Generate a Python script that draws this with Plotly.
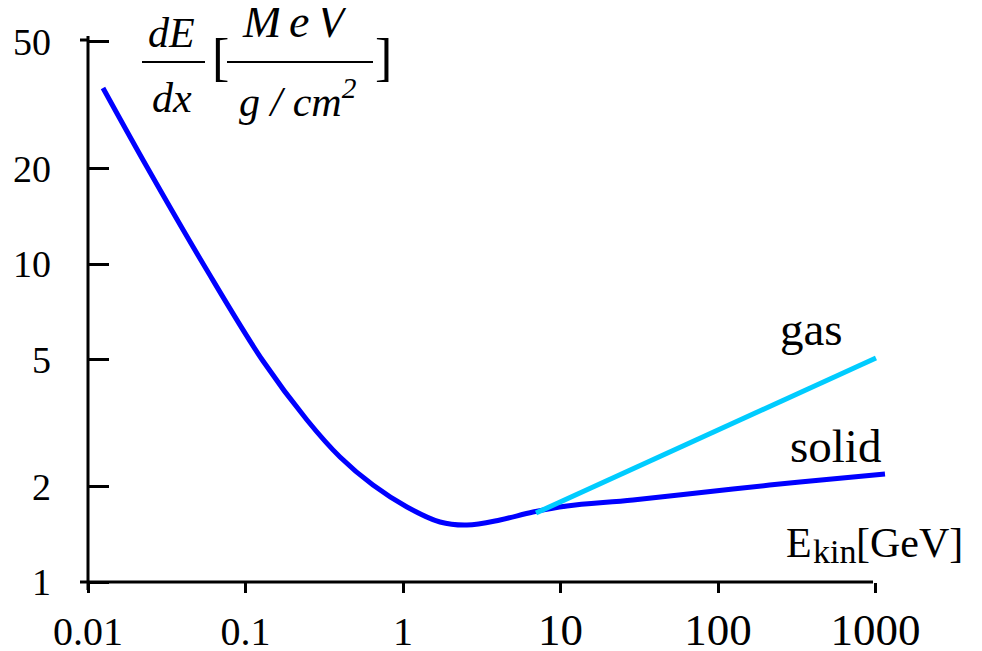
import plotly.graph_objects as go

# ---- data ----
solid_E = [0.01245, 0.02369, 0.05533, 0.1292, 0.2457, 0.3981, 0.6449, 1.060,
           1.718, 2.549, 4.129, 6.689, 11.0, 28.86, 124.5, 331.6, 1149]
solid_dEdx = [35.77, 20.18, 9.785, 4.954, 3.232, 2.472, 2.018, 1.722,
              1.544, 1.511, 1.567, 1.660, 1.734, 1.811, 1.961, 2.063, 2.186]
gas_E = [6.99, 1007]
gas_dEdx = [1.648, 5.06]

x_tickvals = [0.01, 0.1, 1, 10, 100, 1000]
x_ticklabels = ["0.01", "0.1", "1", "10", "100", "1000"]
y_tickvals = [1, 2, 5, 10, 20, 50]
y_ticklabels = ["1", "2", "5", "10", "20", "50"]

W, H = 982, 651
OFF = 8  # the page body margin offsets the figure by 8 px
def X(px):
    return (px - OFF) / W
def Y(py):
    return 1 - (py - OFF) / H

SERIF = "Liberation Serif, Times New Roman, serif"

fig = go.Figure()
fig.add_trace(go.Scatter(x=solid_E, y=solid_dEdx, mode="lines",
                         line=dict(color="#0000FF", width=5, shape="spline", smoothing=1.0),
                         hoverinfo="skip", showlegend=False))
fig.add_trace(go.Scatter(x=gas_E, y=gas_dEdx, mode="lines",
                         line=dict(color="#00CCFF", width=5),
                         hoverinfo="skip", showlegend=False))

big = {"10", "100", "1000"}
xt = [f"<span style='font-size:45px'>{t}</span>" if t in big else t for t in x_ticklabels]

fig.update_layout(
    template="none",
    width=W, height=H,
    margin=dict(l=0, r=0, t=0, b=0, autoexpand=False),
    paper_bgcolor="white", plot_bgcolor="white",
    font=dict(family=SERIF, color="black"),
    xaxis=dict(type="log", range=[-2.1143, 3.1556], domain=[X(70), X(900)],
               anchor="free", position=Y(582), automargin=False,
               showline=False, showgrid=False, zeroline=False,
               tickmode="array", tickvals=x_tickvals, ticktext=xt,
               ticks="outside", ticklen=10, tickwidth=3, tickcolor="black",
               ticklabelstandoff=4,
               tickfont=dict(family=SERIF, size=40, color="black")),
    yaxis=dict(type="log", range=[-0.0566, 1.7516], domain=[Y(600), Y(25)],
               anchor="free", position=X(88), automargin=False,
               showline=False, showgrid=False, zeroline=False,
               tickmode="array", tickvals=y_tickvals, ticktext=y_ticklabels,
               ticks="inside", ticklen=20, tickwidth=3, tickcolor="black",
               ticklabelstandoff=37,
               tickfont=dict(family=SERIF, size=38, color="black")),
)

line = dict(color="black", width=3)
shapes = [
    dict(type="line", xref="paper", yref="paper", x0=X(80), x1=X(873), y0=Y(582), y1=Y(582), line=line),
    dict(type="line", xref="paper", yref="paper", x0=X(88), x1=X(88), y0=Y(590), y1=Y(36), line=line),
    dict(type="line", xref="paper", yref="paper", x0=X(80), x1=X(88), y0=Y(40), y1=Y(40), line=line),
    # fraction bars of the axis label
    dict(type="line", xref="paper", yref="paper", x0=X(142), x1=X(205), y0=Y(62), y1=Y(62),
         line=dict(color="black", width=2)),
    dict(type="line", xref="paper", yref="paper", x0=X(227), x1=X(373), y0=Y(62), y1=Y(62),
         line=dict(color="black", width=2)),
]
fig.update_layout(shapes=shapes)

def ann(text, px, py, size, xanchor="center", italic=False):
    fig.add_annotation(text=text, x=X(px), y=Y(py), xref="paper", yref="paper",
                       xanchor=xanchor, yanchor="middle", showarrow=False, borderpad=0,
                       font=dict(family=SERIF, size=size, color="black",
                                 style="italic" if italic else "normal"))

SP = "\u2006"
ann("dE", 171, 33, 42, italic=True)
ann("dx", 172, 98, 42, italic=True)
ann("[", 220, 58, 52)
ann(SP.join("MeV"), 296, 22, 46, italic=True)
ann("g / cm<sup>2</sup>", 298, 98, 42, italic=True)
ann("]", 383, 58, 52)
ann("gas", 811, 329, 47)
ann("solid", 835, 446, 47)
ann("E", 785, 543, 42, xanchor="left")
ann("kin", 812, 551, 34, xanchor="left")
ann("[GeV]", 855, 543, 42, xanchor="left")

fig.write_html("out.html")
